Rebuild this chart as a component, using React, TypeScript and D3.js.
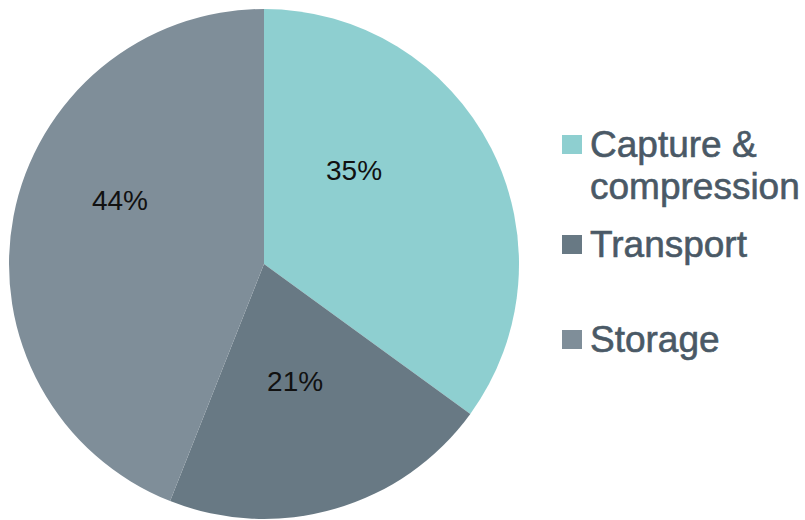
import React from "react";
import * as d3 from "d3";

const categories = ["Capture &\ncompression", "Transport", "Storage"];
const values = [35, 21, 44];
const colors = ["#8ecfd0", "#687984", "#7f8e99"];
const labelText = ["35%", "21%", "44%"];

const W = 805;
const H = 520;
const cx = 264;
const cy = 264;
const R = 255;

export default function App() {
  const pie = d3.pie<number>().value((d) => d).sort(null);
  const arcs = pie(values);
  const arcGen = d3.arc<d3.PieArcDatum<number>>().innerRadius(0).outerRadius(R);
  // label placement (Excel-like best-fit positions) relative to centre
  const labelRadius = [0.51, 0.475, 0.618];
  const labelAngleShift = [-0.335, 0.023, 0.229];

  const legendY = [147, 247, 342];

  return (
    <svg
      width={W}
      height={H}
      style={{ position: "absolute", left: 0, top: 0, background: "#fff" }}
      fontFamily="Liberation Sans, Arial, sans-serif"
    >
      <g transform={`translate(${cx},${cy})`}>
        {arcs.map((a, i) => (
          <path key={i} d={arcGen(a) || ""} fill={colors[i]} />
        ))}
        {arcs.map((a, i) => {
          const mid = (a.startAngle + a.endAngle) / 2 + labelAngleShift[i];
          const r = R * labelRadius[i];
          const x = Math.sin(mid) * r;
          const y = -Math.cos(mid) * r;
          return (
            <text
              key={"l" + i}
              x={x}
              y={y}
              textAnchor="middle"
              dominantBaseline="central"
              fontSize={28}
              fill="#111"
            >
              {labelText[i]}
            </text>
          );
        })}
      </g>
      <g>
        {categories.map((c, i) => {
          const lines = c.split("\n");
          return (
            <g key={"lg" + i}>
              <rect x={562} y={legendY[i] - 12} width={20} height={19} fill={colors[i]} />
              <text
                x={590}
                y={legendY[i] + 10}
                fontSize={37}
                fill="#4a5966"
                stroke="#4a5966"
                strokeWidth={0.6}
              >
                {lines.map((ln, j) => (
                  <tspan key={j} x={590} dy={j === 0 ? 0 : 42}>
                    {ln}
                  </tspan>
                ))}
              </text>
            </g>
          );
        })}
      </g>
    </svg>
  );
}
